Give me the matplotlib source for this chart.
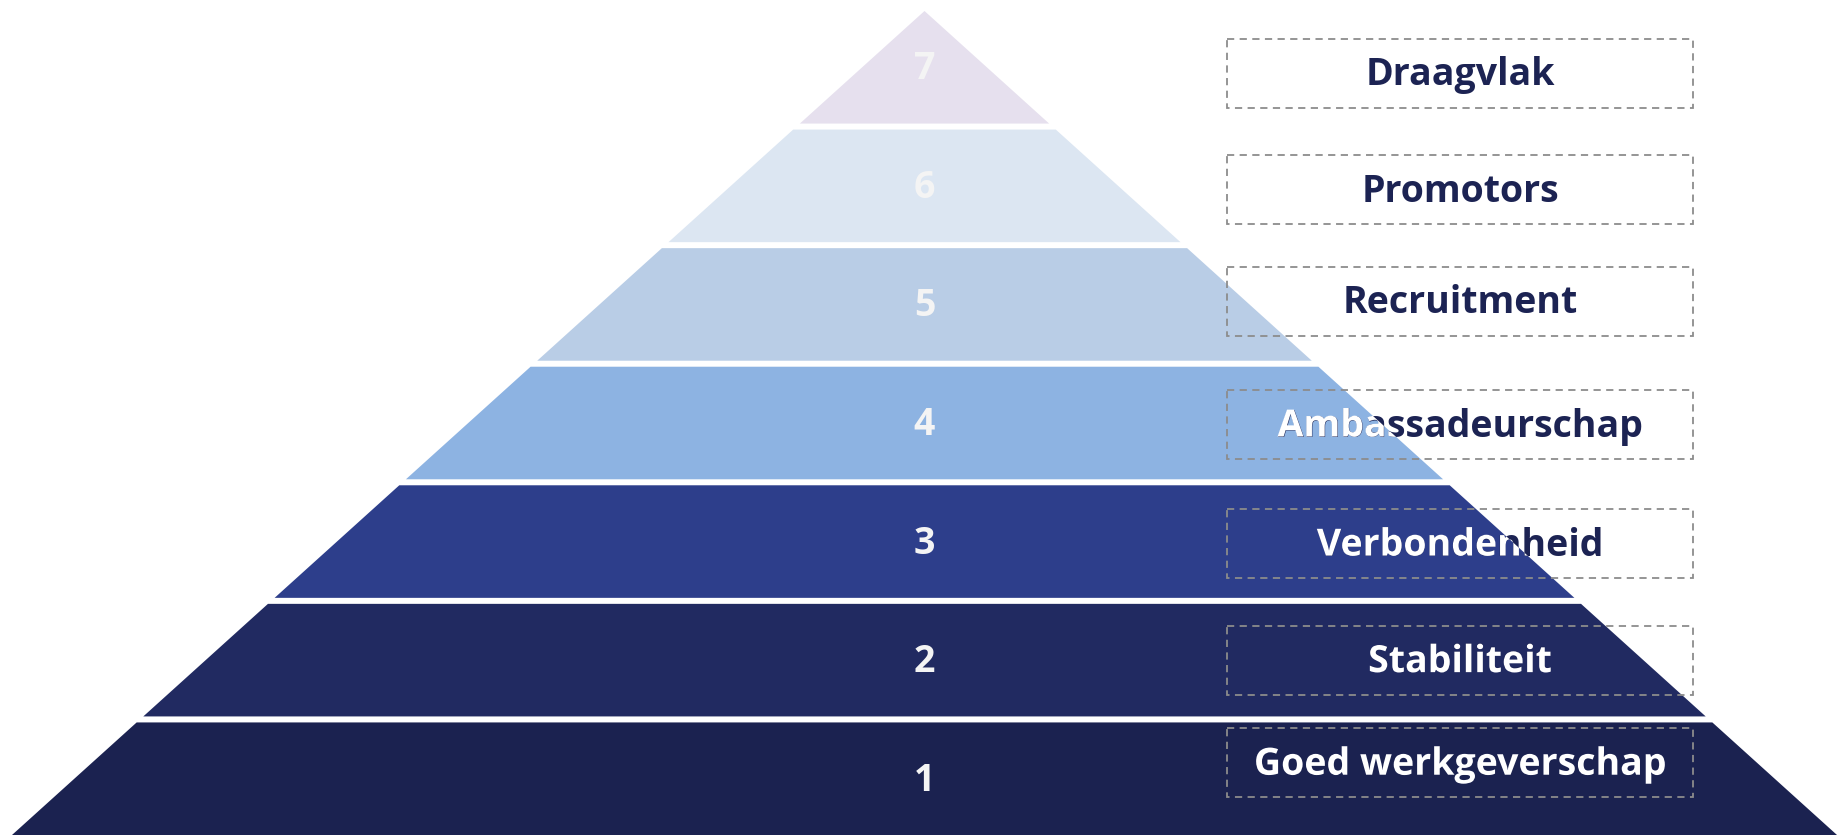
import matplotlib.pyplot as plt
from matplotlib.patches import Polygon, Rectangle
from matplotlib import patheffects

plt.rcParams['font.family'] = ['Open Sans', 'DejaVu Sans']

# tiers from bottom (1) to top (7)
levels = [1, 2, 3, 4, 5, 6, 7]
labels = ['Goed werkgeverschap', 'Stabiliteit', 'Verbondenheid', 'Ambassadeurschap',
          'Recruitment', 'Promotors', 'Draagvlak']
colors = ['#1b2250', '#212a61', '#2d3e8b', '#8db3e2', '#b9cde6', '#dce6f2', '#e6e0ee']

# layout (pixels, y downwards)
W, H = 1837, 835
apex = (924.5, 11)
base_left, base_right = 12, 1837
gap = 6
box_x, box_w, box_h = 1227, 466, 69
box_shift = [-16, 0, 2, 1.5, -3, 4, 6]
navy = '#1c2353'

fig = plt.figure(figsize=(W / 100, H / 100), dpi=100)
ax = fig.add_axes([0, 0, 1, 1])
ax.set_xlim(0, W)
ax.set_ylim(H, 0)
ax.axis('off')

n = len(levels)
tier_h = (H - apex[1] - gap * (n - 1)) / n
half_slope = (base_right - base_left) / 2 / (H - apex[1])


def half_width(y):
    return (y - apex[1]) * half_slope


pyramid = Polygon([apex, (base_left, H), (base_right, H)], closed=True,
                  facecolor='none', edgecolor='none')
ax.add_patch(pyramid)

for i, (lvl, lab, col) in enumerate(zip(levels, labels, colors)):
    k = n - 1 - i  # position from the top
    top = apex[1] + k * (tier_h + gap)
    bot = top + tier_h
    wt, wb = half_width(top), half_width(bot)
    cx = apex[0]
    if wt < 0.5:
        pts = [(cx, top), (cx - wb, bot), (cx + wb, bot)]
    else:
        pts = [(cx - wt, top), (cx + wt, top), (cx + wb, bot), (cx - wb, bot)]
    ax.add_patch(Polygon(pts, closed=True, facecolor=col, edgecolor='none', zorder=1))

    mid = (top + bot) / 2
    ax.text(cx, mid + 2, str(lvl), ha='center', va='center', fontsize=27,
            fontweight='bold', color='#f4f4f4', zorder=3)

    # dashed label box
    by = mid + box_shift[i]
    ax.add_patch(Rectangle((box_x, by - box_h / 2), box_w, box_h, fill=False,
                           edgecolor='#8c8c8c', linewidth=1.3,
                           linestyle=(0, (4, 3)), zorder=4))
    tx, ty = box_x + box_w / 2, by + 2
    ax.text(tx, ty, lab, ha='center', va='center', fontsize=27,
            fontweight='bold', color=navy, zorder=5)
    # white part of the label where it sits on the pyramid
    # (drawn as a path so the clip path is honoured)
    t = ax.text(tx, ty, lab, ha='center', va='center', fontsize=27,
                fontweight='bold', color='white', zorder=6, clip_on=True,
                path_effects=[patheffects.Normal()])
    t.set_clip_path(pyramid)

fig.savefig('out.png', dpi=100)
